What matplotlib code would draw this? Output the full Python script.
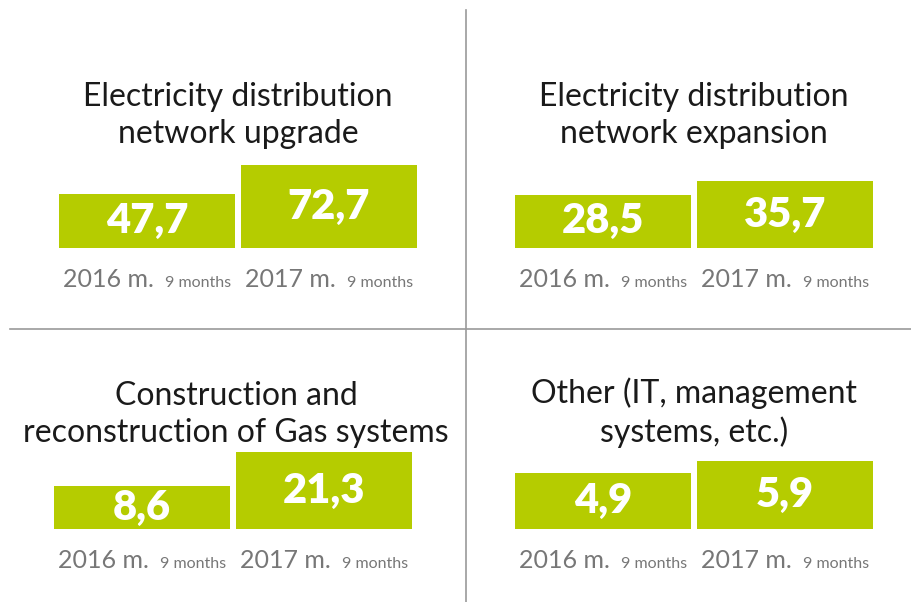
import numpy as np
import matplotlib.pyplot as plt
from matplotlib.lines import Line2D

titles = [
    "Electricity distribution\nnetwork upgrade",
    "Electricity distribution\nnetwork expansion",
    "Construction and\nreconstruction of Gas systems",
    "Other (IT, management\nsystems, etc.)",
]
years = ["2016 m.", "2017 m."]
period = "9 months"
values = [
    [47.7, 72.7],
    [28.5, 35.7],
    [8.6, 21.3],
    [4.9, 5.9],
]

green = "#b5cc00"
gray = "#777777"
W, H = 912, 602

# panel layout in pixels: left of first bar, bar baseline, top of tallest bar, axis floor
panels = [
    (59, 248, 165, 0),
    (515, 248, 181, 0),
    (54, 529, 452, -7.5),
    (515, 529, 461, 0),
]
# centre x and baseline of the last title line
title_centers = [(238, 143), (694, 143), (236, 442), (694, 442)]

fig = plt.figure(figsize=(W / 100, H / 100), dpi=100)
fig.patch.set_facecolor("white")

unit = 182.0          # pixels between bar centres
bw = 176.0 / unit     # bar width in data units
x = np.arange(2)

for i, (left, base, top, floor) in enumerate(panels):
    x0 = -bw / 2
    x1 = 1 + bw / 2
    width_px = (x1 - x0) * unit
    ax = fig.add_axes([left / W, 1 - base / H, width_px / W, (base - top) / H])
    vals = np.array(values[i])
    ax.bar(x, vals - floor, bottom=floor, width=bw, color=green)
    ax.set_xlim(x0, x1)
    ax.set_ylim(floor, vals.max())
    ax.axis("off")

    for j, v in enumerate(vals):
        ax.text(j, (v + floor) / 2, f"{v:.1f}".replace(".", ","),
                ha="center", va="center", color="white",
                fontsize=30, fontweight="heavy", family="Lato")
        ax.annotate(years[j], xy=(j - bw / 2, floor), xycoords="data",
                    xytext=(4, -39), textcoords="offset pixels",
                    ha="left", va="baseline", color=gray,
                    fontsize=18, family="Lato", annotation_clip=False)
        ax.annotate(period, xy=(j + bw / 2, floor), xycoords="data",
                    xytext=(-4, -39), textcoords="offset pixels",
                    ha="right", va="baseline", color=gray,
                    fontsize=11.5, family="Lato", annotation_clip=False)

    cx, cy = title_centers[i]
    fig.text(cx / W, 1 - cy / H, titles[i], ha="center", va="baseline",
             fontsize=23, family="Lato", color="#1a1a1a",
             linespacing=1.3, multialignment="center")

# divider lines
fig.add_artist(Line2D([466 / W, 466 / W], [0, 1 - 10 / H],
                      color="#9a9a9a", lw=1.2, transform=fig.transFigure))
fig.add_artist(Line2D([10 / W, 1], [1 - 329 / H, 1 - 329 / H],
                      color="#9a9a9a", lw=1.2, transform=fig.transFigure))

plt.savefig("out.png", dpi=100)
